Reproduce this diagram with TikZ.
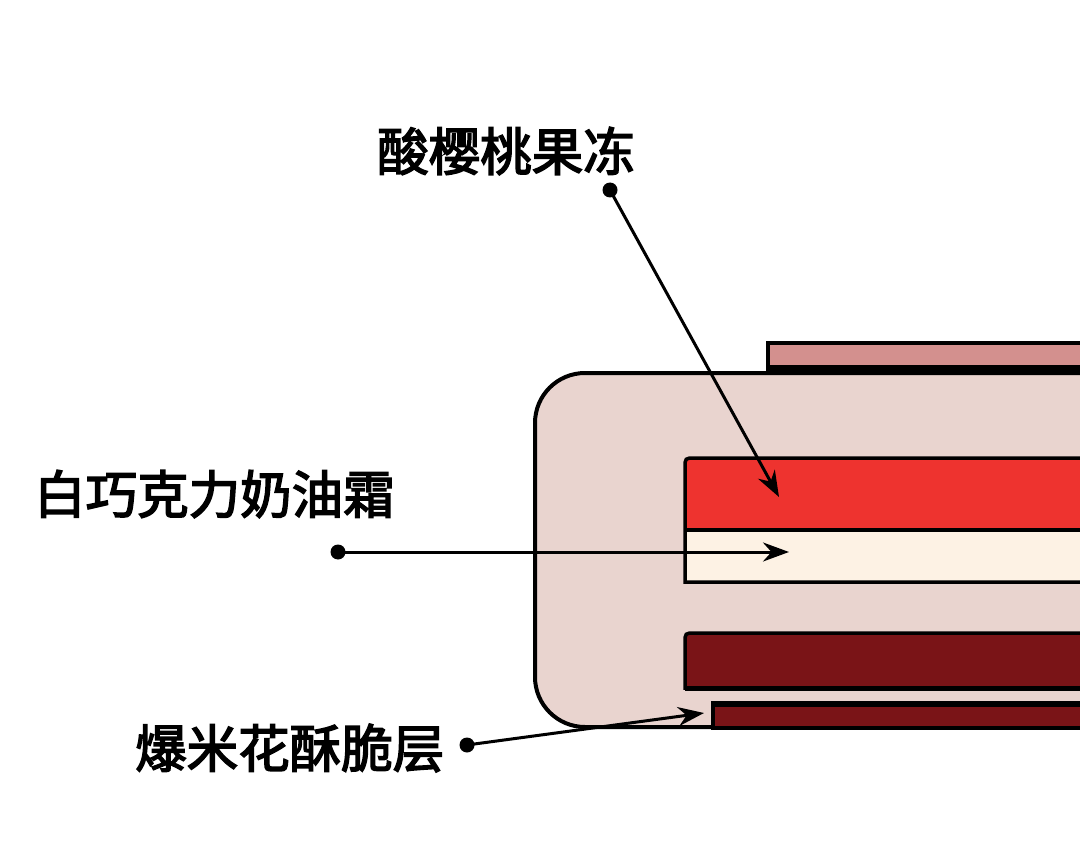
\documentclass[tikz,border=0pt]{standalone}
\usepackage{fontspec}
\newfontfamily\cjk{Noto Sans CJK SC}[FakeBold=3]
\usetikzlibrary{arrows.meta}
\definecolor{barpink}{HTML}{D3908E}
\definecolor{basepink}{HTML}{E9D4CF}
\definecolor{jelly}{HTML}{EE332F}
\definecolor{cream}{HTML}{FDF2E4}
\definecolor{darkred}{HTML}{7A1417}
\tikzset{
  lbl/.style={font=\cjk\fontsize{51.5}{60}\selectfont, inner sep=0pt},
  ptr/.style={line width=3pt, -{Stealth[length=26pt,width=19pt]}},
  outl/.style={line width=4pt, line join=miter},
}
\begin{document}
\begin{tikzpicture}[x=1pt,y=-1pt]
\useasboundingbox (0,0) rectangle (1080,864);
\fill[white] (0,0) rectangle (1080,864);
\clip (0,0) rectangle (1080,864);
% top bar
\draw[outl, fill=barpink] (768,343) rectangle (1100,367);
\draw[line width=7pt] (766,368) -- (1100,368);
% base shape
\draw[outl, fill=basepink, rounded corners=50pt] (1120,373) -- (535,373) -- (535,727) -- (1120,727);
% jelly + cream layer
\fill[cream] (685,530) rectangle (1100,582);
\fill[jelly] (1100,530) -- (685,530) -- (685,468) .. controls (685,458) .. (695,458) -- (1100,458) -- cycle;
\draw[line width=3.5pt] (1100,458) -- (695,458) .. controls (685,458) .. (685,468) -- (685,582) -- (1100,582);
\draw[line width=3.5pt] (685,530) -- (1100,530);
% dark layer
\draw[line width=3.5pt, fill=darkred] (1100,688) -- (685,688) -- (685,643) .. controls (685,633) .. (695,633) -- (1100,633);
\draw[line width=5pt] (685,688) -- (1100,688);
% bottom thin bar
\draw[line width=4pt, fill=darkred] (713,704) rectangle (1100,728);
\draw[line width=6pt] (711,704) -- (1100,704);
% labels
\node[lbl] (l1) at (506,151) {酸樱桃果冻};
\node[lbl, anchor=west] (l2) at (34,494) {白巧克力奶油霜};
\node[lbl, anchor=west] (l3) at (135,748) {爆米花酥脆层};
% connectors
\coordinate (d1) at (610,190);
\coordinate (t1) at (779,497);
\coordinate (d2) at (338,552);
\coordinate (t2) at (789,552);
\coordinate (d3) at (467,745);
\coordinate (t3) at (704,713);
\draw[ptr] (d1) -- (t1);
\draw[ptr] (d2) -- (t2);
\draw[ptr] (d3) -- (t3);
\fill (d1) circle (7.5pt);
\fill (d2) circle (7.5pt);
\fill (d3) circle (7.5pt);
\end{tikzpicture}
\end{document}
